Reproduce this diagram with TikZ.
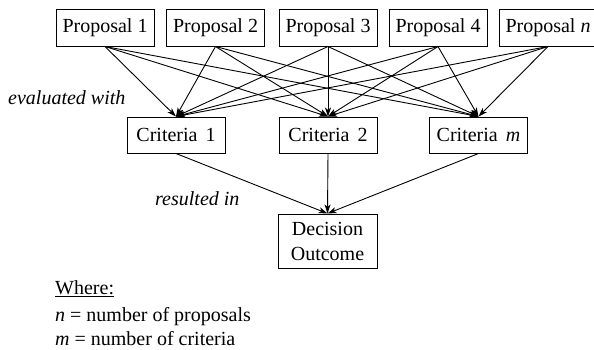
\documentclass[tikz,border=0pt]{standalone}
\usepackage{fontspec}
\setmainfont{Liberation Serif}
\usetikzlibrary{arrows.meta}
\begin{document}
\begin{tikzpicture}[x=1pt,y=-1pt,
  box/.style={draw,line width=1pt,minimum width=98pt,minimum height=37pt,inner sep=0pt,font=\fontsize{20}{25}\selectfont},
  arr/.style={-{Stealth[length=9pt,width=6pt,inset=2.5pt]},line width=0.9pt},
  lbl/.style={font=\fontsize{20}{24}\selectfont\itshape,inner sep=0pt},
  txt/.style={font=\fontsize{20}{24}\selectfont,inner sep=0pt,anchor=base west}]
\useasboundingbox (0,0) rectangle (594,349);
\clip (0,0) rectangle (594,349);
% proposals
\node[box] (p1) at (105,27.5) {Proposal 1};
\node[box] (p2) at (215.5,27.5) {Proposal 2};
\node[box] (p3) at (328,27.5) {Proposal 3};
\node[box] (p4) at (438,27.5) {Proposal 4};
\node[box] (pn) at (548,27.5) {Proposal \textit{n}};
% criteria
\node[box,minimum height=36pt] (c1) at (176,135) {Criteria\hspace{0.4em}1};
\node[box,minimum height=36pt] (c2) at (328,135) {Criteria\hspace{0.4em}2};
\node[box,minimum height=36pt] (cm) at (478.5,135) {Criteria\hspace{0.4em}\textit{m}};
% decision
\node[box,minimum width=99pt,minimum height=54pt,align=center] (d) at (327.5,241) {Decision\\Outcome};
% arrows proposals -> criteria
\foreach \p in {p1,p2,p3,p4,pn}{
  \foreach \c in {c1,c2,cm}{
    \draw[arr] (\p.south) -- (\c.north);
  }
}
% arrows criteria -> decision
\foreach \c in {c1,c2,cm}{
  \draw[arr] (\c.south) -- (d.north);
}
% labels
\node[lbl,anchor=base west] (ev) at (8,104) {evaluated with};
\node[lbl,anchor=base west] (rs) at (155,205) {resulted in};
% legend
\node[txt] (w) at (55,294) {\underline{Where:}};
\node[txt] (l1) at (55,321) {\textit{n} = number of proposals};
\node[txt] (l2) at (55,345) {\textit{m} = number of criteria};
\end{tikzpicture}
\end{document}
